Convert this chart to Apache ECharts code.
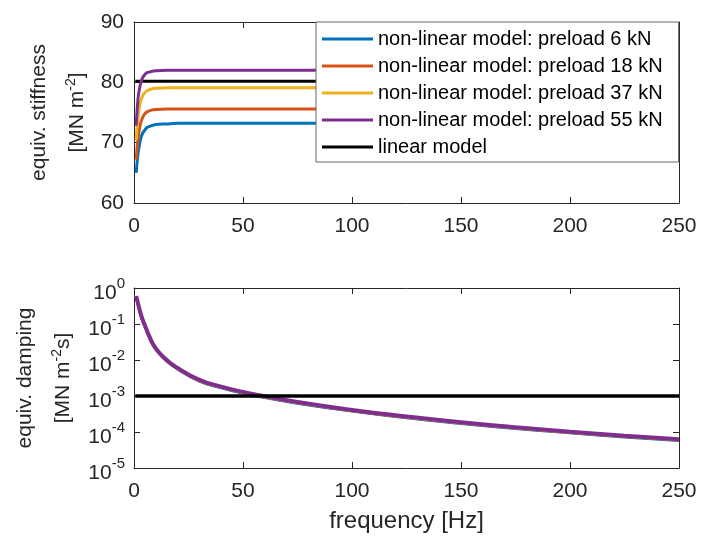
<!DOCTYPE html>
<html>
<head>
<meta charset="utf-8">
<script src="https://cdn.jsdelivr.net/npm/echarts@6/dist/echarts.min.js"></script>
<style>
	html, body { margin: 0; padding: 0; background: #fff; }
	#chart { width: 701px; height: 538px; }
</style>
</head>
<body>
<div id="chart"></div>
<script>
// stiffness, top panel
var freqStiff = [1, 1.5, 2, 3, 4, 5, 6, 8, 10, 15, 20, 30, 50, 100, 150, 200, 250];
var stiff6 = [65.0, 67.0, 68.6, 70.6, 71.6, 72.1, 72.5, 72.8, 73.0, 73.1, 73.2, 73.2, 73.2, 73.2, 73.2, 73.2, 73.2];
var stiff18 = [67.2, 69.5, 71.2, 73.2, 74.2, 74.8, 75.1, 75.4, 75.5, 75.6, 75.6, 75.6, 75.6, 75.6, 75.6, 75.6, 75.6];
var stiff37 = [70.4, 73.0, 74.8, 76.8, 77.8, 78.3, 78.6, 78.9, 79.0, 79.1, 79.1, 79.1, 79.1, 79.1, 79.1, 79.1, 79.1];
var stiff55 = [72.8, 75.8, 77.8, 79.8, 80.8, 81.3, 81.6, 81.8, 81.9, 82.0, 82.0, 82.0, 82.0, 82.0, 82.0, 82.0, 82.0];
var stiffLinear = 80.2;

// damping, bottom panel
var freqDamp = [1, 2, 3, 4, 5, 7, 10, 15, 20, 30, 40, 50, 60, 75, 100, 125, 150, 175, 200, 225, 250];
var damp6 = [0.57, 0.32, 0.19, 0.122, 0.087, 0.043, 0.0197, 0.0094, 0.0056, 0.0026, 0.00170, 0.00120, 0.00091, 0.00063, 0.00038, 0.000250, 0.000173, 0.000125, 0.000095, 0.000073, 0.000058];
var damp18 = [0.58, 0.325, 0.193, 0.124, 0.089, 0.044, 0.0201, 0.0096, 0.0057, 0.00265, 0.00174, 0.00123, 0.00093, 0.00065, 0.00039, 0.000256, 0.000178, 0.000129, 0.000097, 0.000075, 0.000060];
var damp37 = [0.59, 0.33, 0.196, 0.127, 0.091, 0.045, 0.0205, 0.0098, 0.0058, 0.0027, 0.00178, 0.00126, 0.00095, 0.00066, 0.00040, 0.000262, 0.000182, 0.000132, 0.000099, 0.000077, 0.000061];
var damp55 = [0.60, 0.34, 0.20, 0.13, 0.093, 0.046, 0.021, 0.010, 0.006, 0.0028, 0.00182, 0.00129, 0.00098, 0.00068, 0.00041, 0.00027, 0.000186, 0.000135, 0.000102, 0.000079, 0.000063];
var dampLinear = 0.001;

var seriesNames = ['non-linear model: preload 6 kN', 'non-linear model: preload 18 kN', 'non-linear model: preload 37 kN', 'non-linear model: preload 55 kN', 'linear model'];
var colors = ['#0072BD', '#D95319', '#EDB120', '#7E2F8E', '#000000'];

var FONT = 'Liberation Sans, Arial, sans-serif';
var tickColor = '#262626';
var lab = { color: tickColor, fontSize: 21, fontFamily: FONT };

function pairs(xs, ys) {
	return xs.map(function (x, i) { return [x, ys[i]]; });
}

function supLabel(v) {
	var e = Math.round(Math.log10(v));
	return '{b|10}{s|' + e + '}';
}

function xAxisPair(gi, name) {
	return [{
		gridIndex: gi, type: 'value', min: 0, max: 250, interval: 50,
		axisLine: { show: true, onZero: false, lineStyle: { color: tickColor, width: 1 } },
		axisTick: { show: true, inside: true, length: 6, lineStyle: { color: tickColor } },
		axisLabel: Object.assign({ margin: 13 }, lab),
		splitLine: { show: false },
		name: name || '', nameLocation: 'middle', nameGap: 41,
		nameTextStyle: { color: tickColor, fontSize: 24, fontFamily: FONT }
	}, {
		gridIndex: gi, type: 'value', position: 'top', min: 0, max: 250, interval: 50,
		axisLine: { show: true, onZero: false, lineStyle: { color: tickColor, width: 1 } },
		axisTick: { show: true, inside: true, length: 6, lineStyle: { color: tickColor } },
		axisLabel: { show: false },
		splitLine: { show: false }
	}];
}

function nameRich() {
	return {
		a: { fontSize: 21, color: tickColor, fontFamily: FONT, lineHeight: 38 },
		s: { fontSize: 14, color: tickColor, fontFamily: FONT, lineHeight: 38, padding: [0, 0, 12, 0] }
	};
}

function buildOption() {
	var legendData = seriesNames.map(function (n) { return { name: n, icon: 'rect' }; });
	var series = [];
	var stiffSets = [stiff6, stiff18, stiff37, stiff55];
	var dampSets = [damp6, damp18, damp37, damp55];
	for (var i = 0; i < 4; i++) {
		series.push({
			name: seriesNames[i], type: 'line', xAxisIndex: 0, yAxisIndex: 0,
			data: pairs(freqStiff, stiffSets[i]), showSymbol: false, smooth: 0.3,
			lineStyle: { color: colors[i], width: 3 }, itemStyle: { color: colors[i] }, z: 3 + i
		});
	}
	series.push({
		name: seriesNames[4], type: 'line', xAxisIndex: 0, yAxisIndex: 0,
		data: [[0.6, stiffLinear], [250, stiffLinear]], showSymbol: false,
		lineStyle: { color: '#000', width: 3 }, itemStyle: { color: '#000' }, z: 2
	});
	for (var j = 0; j < 4; j++) {
		series.push({
			name: seriesNames[j], type: 'line', xAxisIndex: 2, yAxisIndex: 2,
			data: pairs(freqDamp, dampSets[j]), showSymbol: false, smooth: 0.5,
			lineStyle: { color: colors[j], width: j == 3 ? 4 : 3 }, itemStyle: { color: colors[j] }, z: 3 + j
		});
	}
	series.push({
		name: seriesNames[4], type: 'line', xAxisIndex: 2, yAxisIndex: 2,
		data: [[0.6, dampLinear], [250, dampLinear]], showSymbol: false,
		lineStyle: { color: '#000', width: 3.5 }, itemStyle: { color: '#000' }, z: 9
	});

	var yBase = {
		axisLine: { show: true, onZero: false, lineStyle: { color: tickColor, width: 1 } },
		axisTick: { show: true, inside: true, length: 6, lineStyle: { color: tickColor } },
		splitLine: { show: false }
	};

	return {
		animation: false,
		backgroundColor: '#fff',
		grid: [
			{ left: 134, top: 22, width: 545, height: 181 },
			{ left: 134, top: 288, width: 545, height: 180 }
		],
		legend: {
			z: 100,
			orient: 'vertical', left: 316, top: 22,
			backgroundColor: '#fff', borderColor: '#666', borderWidth: 1,
			padding: [7, 16, 5, 6], itemGap: 7, itemWidth: 51, itemHeight: 3,
			textStyle: { color: '#000', fontSize: 20, fontFamily: FONT },
			data: legendData, selectedMode: false
		},
		xAxis: xAxisPair(0).concat(xAxisPair(1, 'frequency [Hz]')),
		yAxis: [
			Object.assign({}, yBase, {
				gridIndex: 0, type: 'value', min: 60, max: 90, interval: 10,
				axisLabel: Object.assign({ margin: 10 }, lab),
				name: '{a|equiv. stiffness}\n{a|[MN m}{s|-2}{a|]}', nameLocation: 'middle', nameGap: 33, nameRotate: 90,
				nameTextStyle: { align: 'center', rich: nameRich() }
			}),
			Object.assign({}, yBase, {
				gridIndex: 0, type: 'value', position: 'right', min: 60, max: 90, interval: 10,
				axisLabel: { show: false }
			}),
			Object.assign({}, yBase, {
				gridIndex: 1, type: 'log', logBase: 10, min: 0.00001, max: 1,
				axisLabel: Object.assign({
					margin: 9, formatter: supLabel,
					rich: {
						b: { fontSize: 21, color: tickColor, fontFamily: FONT, padding: [10, 0, 0, 0] },
						s: { fontSize: 15, color: tickColor, fontFamily: FONT, padding: [0, 0, 8, 0] }
					}
				}, lab),
				minorTick: { show: false },
				name: '{a|equiv. damping}\n{a|[MN m}{s|-2}{a|s]}', nameLocation: 'middle', nameGap: 52, nameRotate: 90,
				nameTextStyle: { align: 'center', rich: nameRich() }
			}),
			Object.assign({}, yBase, {
				gridIndex: 1, type: 'log', logBase: 10, min: 0.00001, max: 1, position: 'right',
				axisLabel: { show: false }
			})
		],
		series: series
	};
}

var myChart = echarts.init(document.getElementById('chart'));
myChart.setOption(buildOption());
</script>
</body>
</html>
